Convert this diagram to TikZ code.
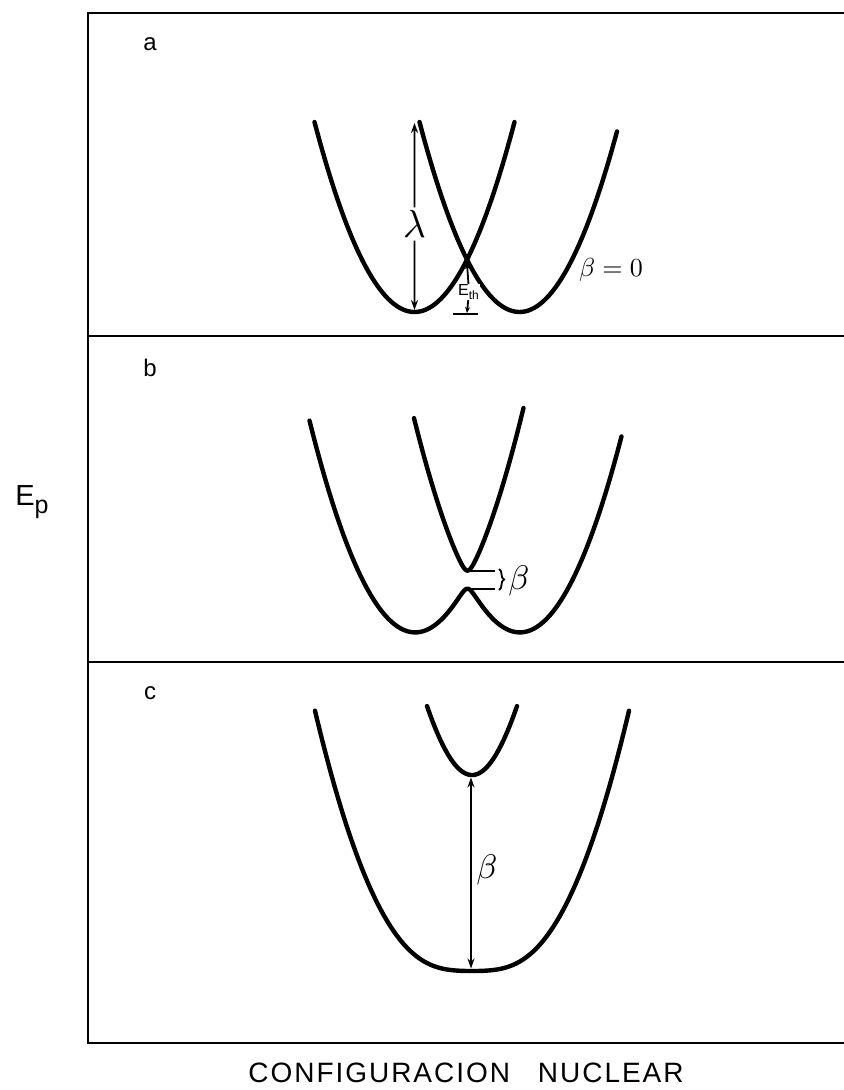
\documentclass[tikz,border=0pt]{standalone}
\usepackage{fontspec}
\setsansfont{Liberation Sans}
\newfontfamily\letterfont[LetterSpace=7]{Liberation Sans}
\usepackage{tikz}
\usetikzlibrary{positioning,arrows.meta,decorations.pathreplacing}

\begin{document}
\begin{tikzpicture}[x=5pt, y=-5pt,
    curve/.style={line width=2.2pt, line cap=round, line join=round},
    frame/.style={line width=1.4pt},
    gap/.style={line width=0.9pt, -{Stealth[length=5pt,width=3.5pt]}},
    tick/.style={line width=0.9pt},
    panel/.style={font=\letterfont\fontsize{12}{14}\selectfont},
    greek/.style={scale=1.7, inner sep=0.6pt},
    every node/.style={inner sep=1pt}]
  \useasboundingbox (0,0) rectangle (84.4,109);
  \def\k{0.19}
  % frame and dividers
  \draw[frame] (84.8,1.3) -- (8.8,1.3) -- (8.8,104.3) -- (84.8,104.3);
  \foreach \y in {33.6,66.2}{
    \draw[frame] (8.8,\y) -- (84.8,\y);}
  \foreach \n/\t/\y in {pa/a/4.4, pb/b/36.8, pc/c/69.3}{
    \node[panel] (\n) at (15,\y) {\t};}
  \node[font=\letterfont\fontsize{14.5}{16}\selectfont] (ylab) at (3.2,50.2)
    {E\raisebox{-0.5ex}{\fontsize{12.5}{14}\selectfont p}};
  \node[font=\letterfont\fontsize{14}{16}\selectfont] (xlab) at (46.6,107.3)
    {CONFIGURACION\quad NUCLEAR};
  % a: two crossing parabolas
  \draw[curve] plot[domain=-15.25:4.75, samples=80]
    ({46.7+\x}, {31.2-\k*(\x+5.25)^2});
  \draw[curve] plot[domain=-4.75:15.0, samples=80]
    ({46.7+\x}, {31.2-\k*(\x-5.25)^2});
  \coordinate (aTop) at (41.45,12.3);
  \coordinate (aMin) at (41.45,31.0);
  \node[greek, scale=1.15, fill=white] (lam) at (41.45,22.4) {$\lambda$};
  \draw[gap] (lam) -- (aTop);
  \draw[gap] (lam) -- (aMin);
  \coordinate (cross) at (46.7,26.3);
  \coordinate (ethBot) at (46.7,31.3);
  \coordinate (tickL) at (45.3,31.4);
  \coordinate (tickR) at (47.8,31.4);
  \node[font=\sffamily\fontsize{8}{9}\selectfont, fill=white, inner sep=0.3pt]
    (eth) at (46.9,29.2) {E\textsubscript{th}};
  \draw[gap, -{Stealth[length=3pt,width=2.5pt]}] (eth) -- (cross);
  \draw[gap, -{Stealth[length=3pt,width=2.5pt]}] (eth) -- (ethBot);
  \draw[tick] (tickL) -- (tickR);
  \node[scale=1.3] (bzero) at (61.1,27.0) {$\beta = 0$};
  % b: weak coupling
  \draw[curve] plot[domain=-15.8:15.4, samples=241]
    ({46.75+\x}, {63.2-(\k*(\x*\x+27.56)-veclen(abs(1.995*\x),0.9))});
  \draw[curve] plot[domain=-5.35:5.6, samples=121]
    ({46.75+\x}, {63.2-(\k*(\x*\x+27.56)+veclen(abs(1.995*\x),0.9))});
  \coordinate (bUp) at (46.75,57.06);
  \coordinate (bHump) at (46.75,58.86);
  \coordinate (bUpR) at (49.5,57.06);
  \coordinate (bHumpR) at (49.5,58.86);
  \draw[tick] (bUp) -- (bUpR);
  \draw[tick] (bHump) -- (bHumpR);
  \draw[tick, decorate, decoration={brace, amplitude=2.5pt}]
    (49.9,56.9) -- (49.9,59.0);
  \node[greek] (betb) at (51.9,58.1) {$\beta$};
  % c: strong coupling
  \draw[curve] plot[domain=-15.7:15.7, samples=161]
    ({47.2+\x}, {91.79-(\k*(\x*\x+23.62)-veclen(abs(1.847*\x),9.8))});
  \draw[curve] plot[domain=-4.5:4.5, samples=81]
    ({47.2+\x}, {91.79-(\k*(\x*\x+23.62)+veclen(abs(1.847*\x),9.8))});
  \coordinate (cUp) at (47.1,77.75);
  \coordinate (cLow) at (47.1,96.85);
  \draw[gap, {Stealth[length=5pt,width=3.5pt]}-{Stealth[length=5pt,width=3.5pt]}]
    (cUp) -- (cLow);
  \node[greek] (betc) at (48.7,87.0) {$\beta$};
\end{tikzpicture}
\end{document}
